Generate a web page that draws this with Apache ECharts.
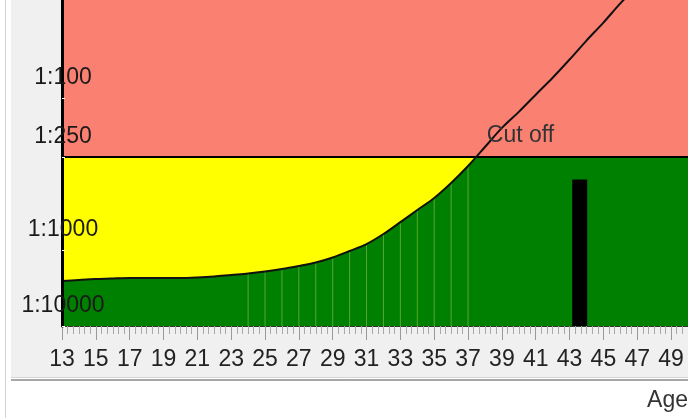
<!DOCTYPE html>
<html>
<head>
<meta charset="utf-8">
<script src="https://cdn.jsdelivr.net/npm/echarts@6/dist/echarts.min.js"></script>
<style>
  html, body { margin: 0; padding: 0; background: #fff; }
  #main { width: 688px; height: 418px; }
</style>
</head>
<body>
<div id="main"></div>
<script>
// maternal age risk curve, risk given as 1:N (last ones run off the top)
var ages = [13, 14, 15, 16, 17, 18, 19, 20, 21, 22, 23, 24, 25, 26, 27, 28, 29, 30,
    31, 32, 33, 34, 35, 36, 37, 38, 39, 40, 41, 42, 43, 44, 45, 46, 47, 48, 49, 50];
var riskDenom = [2560, 2480, 2410, 2370, 2340, 2340, 2340, 2340, 2300, 2230, 2130, 2040,
    1920, 1780, 1620, 1460, 1255, 1030, 915, 788, 660, 551, 460, 368, 286, 214, 159,
    124, 95, 73, 55, 41, 31, 23, 17.5, 13, 10, 8];

var cutoffRisk = 250;
var patientAge = [43.6];
var patientRisk = [350];

// light year lines under the curve
var shadeAges = [24, 25, 26, 27, 28, 29, 30, 31, 32, 33, 34, 35, 36, 37];

var yTickRisks = [10000, 1000, 250, 100];
var yTickLabels = ['1:10000', '1:1000', '1:250', '1:100'];
var xLabelAges = [13, 15, 17, 19, 21, 23, 25, 27, 29, 31, 33, 35, 37, 39, 41, 43, 45, 47, 49];

// the risk axis is not one log scale, it's stretched between the labelled risks
var scaleRisks = [10000, 1000, 250, 100];
var scaleStops = [0, 76, 169, 228];
var axisTop = 326;

function toAxis(r) {
    var L = Math.log10(r);
    var i = 0;
    while (i < scaleRisks.length - 2 && L < Math.log10(scaleRisks[i + 1])) i++;
    var l0 = Math.log10(scaleRisks[i]), l1 = Math.log10(scaleRisks[i + 1]);
    return scaleStops[i] + (l0 - L) / (l0 - l1) * (scaleStops[i + 1] - scaleStops[i]);
}

var curve = ages.map(function(a, i) { return [a, toAxis(riskDenom[i])]; });
var cutU = toAxis(cutoffRisk);
var shadeBars = shadeAges.map(function(a) {
    return [a, toAxis(riskDenom[ages.indexOf(a)])];
});
var patient = patientAge.map(function(a, i) { return [a, toAxis(patientRisk[i])]; });

var minorTicks = [];
for (var t = 13; t < 50; t += 1 / 3) {
    var r = Math.round(t * 1000) / 1000;
    if (Math.abs(r - Math.round(r)) > 0.01 || Math.round(r) % 2 === 0) minorTicks.push(r);
}

var FONT = "'Liberation Sans', Arial, sans-serif";

var chart = echarts.init(document.getElementById('main'));

var option = {
    animation: false,
    grid: { left: 62, right: 0, top: 0, bottom: 92, containLabel: false },
    graphic: [
        { type: 'rect', z: 0, shape: { x: 11, y: 0, width: 677, height: 377 }, style: { fill: '#f0f0f0' } },
        { type: 'line', z: 0, shape: { x1: 11, y1: 377.5, x2: 688, y2: 377.5 }, style: { stroke: '#d6d6d6', lineWidth: 1 } },
        { type: 'line', z: 0, shape: { x1: 11, y1: 380, x2: 688, y2: 380 }, style: { stroke: '#a8a8a8', lineWidth: 2 } },
        { type: 'line', z: 0, shape: { x1: 5.5, y1: 0, x2: 5.5, y2: 418 }, style: { stroke: '#d4d4d4', lineWidth: 1 } },
        { type: 'text', z: 0, right: 0, top: 389, style: { text: 'Age', font: '23px ' + FONT, fill: '#333' } }
    ],
    xAxis: [{
        type: 'value', min: 13, max: 50, z: 5,
        axisLine: { show: true, lineStyle: { color: '#2a3a2a', width: 1 } },
        axisTick: { show: true, customValues: xLabelAges, length: 14, lineStyle: { color: '#999', width: 1 } },
        axisLabel: {
            customValues: xLabelAges, margin: 22,
            fontSize: 23, fontFamily: FONT, color: '#222'
        },
        splitLine: { show: false }
    }, {
        type: 'value', min: 13, max: 50, z: 5, position: 'bottom',
        axisLine: { show: false },
        axisTick: { show: true, customValues: minorTicks, length: 8, lineStyle: { color: '#a8a8a8', width: 1 } },
        axisLabel: { show: false },
        splitLine: { show: false }
    }],
    yAxis: {
        type: 'value', min: 0, max: axisTop, z: 10,
        axisLine: { show: true, lineStyle: { color: '#000', width: 3 } },
        axisTick: { show: true, inside: true, length: 3, customValues: yTickRisks.map(toAxis), lineStyle: { color: '#fff' } },
        axisLabel: {
            customValues: yTickRisks.map(toAxis),
            formatter: function(v) {
                for (var i = 0; i < yTickRisks.length; i++) {
                    if (Math.abs(toAxis(yTickRisks[i]) - v) < 0.01) return yTickLabels[i];
                }
                return '';
            },
            align: 'center', verticalAlign: 'bottom', lineHeight: 40, margin: -1,
            fontSize: 23, fontFamily: FONT, color: '#1a1a1a'
        },
        splitLine: { show: false }
    },
    series: [{
        // yellow band below the cut off
        type: 'line', z: 1, silent: true, showSymbol: false,
        data: [[13, cutU], [50, cutU]],
        lineStyle: { width: 0 },
        areaStyle: { color: '#ffff00', opacity: 1 }
    }, {
        // green under the curve
        type: 'line', z: 2, silent: true, showSymbol: false, smooth: 0.3,
        data: curve,
        lineStyle: { width: 0 },
        areaStyle: { color: '#008000', opacity: 1 }
    }, {
        type: 'bar', z: 2, silent: true, barWidth: 1,
        data: shadeBars,
        itemStyle: { color: '#5aa62d' }
    }, {
        // pink band above the cut off, its line is the cut off
        type: 'line', z: 3, silent: true, showSymbol: false,
        data: [[13, cutU], [50, cutU]],
        lineStyle: { color: '#000', width: 2 },
        areaStyle: { color: '#fa8072', opacity: 1, origin: 'end' },
        markPoint: {
            symbol: 'circle', symbolSize: 0, silent: true,
            data: [{ coord: [40.1, cutU] }],
            label: {
                show: true, position: 'top', distance: 10, formatter: 'Cut off',
                fontSize: 23, fontFamily: FONT, color: '#333'
            }
        }
    }, {
        type: 'line', z: 4, silent: true, showSymbol: false, smooth: 0.3,
        data: curve,
        lineStyle: { color: '#111', width: 2 }
    }, {
        type: 'bar', z: 5, silent: true, xAxisIndex: 1, barWidth: 15,
        data: patient,
        itemStyle: { color: '#000' }
    }]
};

chart.setOption(option);
</script>
</body>
</html>
